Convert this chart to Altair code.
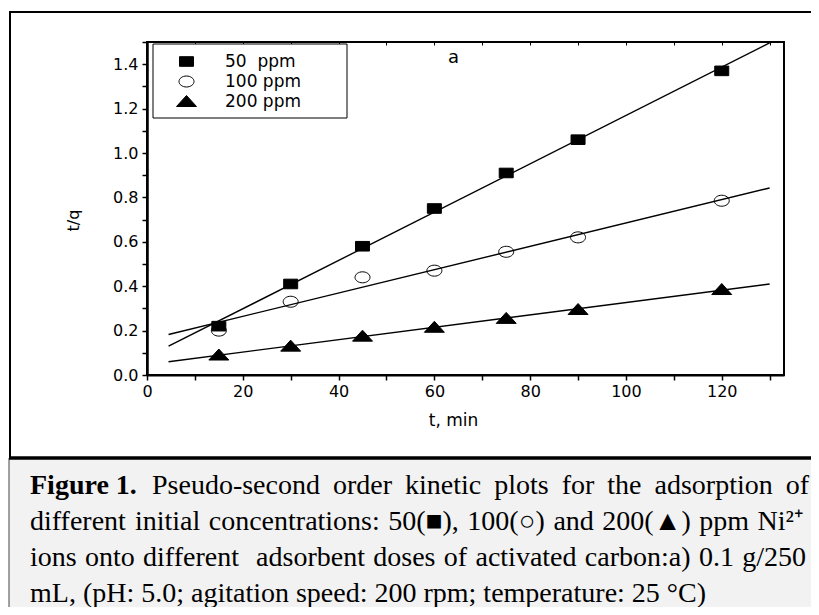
import altair as alt
import pandas as pd

# ---------------- data ----------------
t_min = [15, 30, 45, 60, 75, 90, 120]
tq_50 = [0.22, 0.41, 0.58, 0.75, 0.91, 1.06, 1.37]
tq_100 = [0.20, 0.33, 0.44, 0.47, 0.555, 0.62, 0.785]
tq_200 = [0.09, 0.13, 0.175, 0.215, 0.255, 0.295, 0.385]
series = ["50\u00a0 ppm", "100 ppm", "200 ppm"]

x_ticks = list(range(0, 131, 10))
y_ticks = [round(i * 0.1, 1) for i in range(16)]

panel_label = ["a"]

caption_bold = "Figure 1."
caption_lines = [
    "Pseudo-second order kinetic plots for the adsorption of",
    "different initial concentrations: 50(\u25a0), 100(\u25cb) and 200(\u25b2) ppm Ni\u00b2\u207a",
    "ions onto different  adsorbent doses of activated carbon:a) 0.1 g/250",
    "mL, (pH: 5.0; agitation speed: 200 rpm; temperature: 25 \u00b0C)",
]

# ---------------- tables ----------------
rows = []
for name, vals in zip(series, [tq_50, tq_100, tq_200]):
    for t, v in zip(t_min, vals):
        rows.append({"t": t, "tq": v, "conc": name})
df = pd.DataFrame(rows)

# marker shapes (custom paths, scaled by sqrt(size)/2)
sq = "M-0.7,-0.48L0.7,-0.48L0.7,0.48L-0.7,0.48Z"
ell = "M-0.75,0A0.75,0.55,0,1,0,0.75,0A0.75,0.55,0,1,0,-0.75,0Z"
tri = "M-1,0.5L1,0.5L0,-0.6Z"

SANS = "DejaVu Sans"
SERIF = "Liberation Serif"
CAP_FS = 28

# approximate advance widths (per 1000 em) for caption justification
TW = dict(zip("abcdefghijklmnopqrstuvwxyz",
              [444, 500, 444, 500, 444, 333, 500, 500, 278, 278, 500, 278, 778,
               500, 500, 500, 500, 333, 389, 278, 500, 500, 722, 500, 500, 444]))
TW.update({"C": 667, "F": 556, "H": 722, "L": 611, "N": 722, "P": 556,
           ",": 250, ".": 250, ":": 278, ";": 278, "(": 333, ")": 333, "-": 333,
           "/": 278, "\u00b0": 400, "\u00b2": 300, "\u207a": 540,
           "\u25a0": 604, "\u25cb": 604, "\u25b2": 990, " ": 250})
for d in "0123456789":
    TW[d] = 500


def text_w(s):
    return sum(TW.get(c, 500) for c in s) / 1000.0 * CAP_FS


def justify(line, x0, x1):
    parts = line.split(" ")
    words, gaps = [], []
    w = 1
    for p in parts:
        if p == "":
            w += 1
            continue
        if words:
            gaps.append(w)
        words.append(p)
        w = 1
    total = sum(text_w(p) for p in words)
    extra = (x1 - x0 - total) / sum(gaps)
    out = []
    x = x0
    for i, p in enumerate(words):
        out.append((p, x))
        x += text_w(p)
        if i < len(gaps):
            x += gaps[i] * extra
    return out


xscale = alt.Scale(domain=[0, 133], nice=False, zero=False)
yscale = alt.Scale(domain=[0, 1.5], nice=False)

xaxis = alt.Axis(
    values=x_ticks,
    labelExpr="datum.value % 20 == 0 ? datum.label : ''",
    format="d",
    title="t, min",
    titleFont=SANS, titleFontSize=17, titleFontWeight="normal", titleColor="black",
    titleX=306, titleY=45, titleBaseline="middle", titleAlign="center",
    labelFont=SANS, labelFontSize=16, labelColor="black", labelPadding=3,
    tickSize=5, tickColor="black", tickWidth=1.5,
    domainColor="black", domainWidth=2, grid=False, labelFlush=False,
)
xaxis_top = alt.Axis(
    orient="top", values=x_ticks, labels=False, title=None, domain=False,
    tickSize=3, tickColor="black", tickWidth=1, offset=-3, grid=False,
)
yaxis = alt.Axis(
    values=y_ticks,
    labelExpr="round(datum.value * 10) % 2 == 0 ? format(datum.value, '.1f') : ''",
    title="t/q",
    titleFont=SANS, titleFontSize=16, titleFontWeight="normal", titleColor="black",
    titleX=-74, titleY=178, titleAngle=270, titleBaseline="middle", titleAlign="center",
    labelFont=SANS, labelFontSize=16, labelColor="black", labelPadding=4,
    tickSize=5, tickColor="black", tickWidth=1.5,
    domainColor="black", domainWidth=2.5, grid=False, labelFlush=False,
)

legend = alt.Legend(
    title=None, orient="none", legendX=6, legendY=4, padding=5,
    symbolOffset=18, labelOffset=28, symbolSize=400,
    labelFont=SANS, labelFontSize=17, labelColor="black", rowPadding=1,
    symbolStrokeWidth=1,
)

one = pd.DataFrame({"k": [0]})

frame = alt.Chart(one).mark_rect(fillOpacity=0, stroke="black", strokeWidth=2).encode(
    x=alt.value(-137), x2=alt.value(700), y=alt.value(-30), y2=alt.value(416)
)
cap_bg = alt.Chart(one).mark_rect(fill="#f2f2f2", stroke="#444444", strokeWidth=1).encode(
    x=alt.value(-138), x2=alt.value(700), y=alt.value(416), y2=alt.value(600)
)
cap_rule = alt.Chart(one).mark_rule(color="black", strokeWidth=3.5).encode(
    x=alt.value(-138), x2=alt.value(700), y=alt.value(416)
)
legend_box = alt.Chart(one).mark_rect(fill="white", stroke="black", strokeWidth=1).encode(
    x=alt.value(6), x2=alt.value(200), y=alt.value(2), y2=alt.value(76)
)

lines = alt.Chart(df).transform_regression(
    "t", "tq", groupby=["conc"], extent=[4.5, 130]
).mark_line(color="black", strokeWidth=1.4).encode(
    x=alt.X("t:Q", scale=xscale, axis=xaxis_top),
    y=alt.Y("tq:Q", scale=yscale, axis=yaxis),
    detail="conc:N",
)

points = alt.Chart(df).mark_point(filled=True, size=400, strokeWidth=1, opacity=1).encode(
    x=alt.X("t:Q", scale=xscale, axis=xaxis),
    y=alt.Y("tq:Q", scale=yscale, axis=yaxis),
    shape=alt.Shape("conc:N", scale=alt.Scale(domain=series, range=[sq, ell, tri]), legend=legend),
    fill=alt.Fill("conc:N", scale=alt.Scale(domain=series, range=["black", "transparent", "black"]), legend=legend),
    stroke=alt.Stroke("conc:N", scale=alt.Scale(domain=series, range=["black", "black", "black"]), legend=legend),
)

label_a = alt.Chart(pd.DataFrame({"t": [64], "tq": [1.43], "txt": panel_label})).mark_text(
    font=SANS, fontSize=18, color="black", baseline="middle", align="center"
).encode(
    x=alt.X("t:Q", scale=xscale, axis=None),
    y=alt.Y("tq:Q", scale=yscale, axis=yaxis),
    text="txt:N",
)

# caption (pixel layout, justified word by word like the original)
base_y = [452, 488, 524, 560]
starts = [5, -117, -117]
ends = [662, 662, 659]
word_rows = []
for i in range(3):
    for w, x in justify(caption_lines[i], starts[i], ends[i]):
        word_rows.append({"px": x, "py": base_y[i], "txt": w})
word_rows.append({"px": -117, "py": base_y[3], "txt": caption_lines[3]})
words_df = pd.DataFrame(word_rows)
bold_df = pd.DataFrame({"px": [-117], "py": [base_y[0]], "txt": [caption_bold]})

cap_bold = alt.Chart(bold_df).mark_text(
    font=SERIF, fontSize=CAP_FS, fontWeight="bold", align="left", baseline="alphabetic", color="black"
).encode(x=alt.X("px:Q", scale=None), y=alt.Y("py:Q", scale=None), text="txt:N")
cap_words = alt.Chart(words_df).mark_text(
    font=SERIF, fontSize=CAP_FS, align="left", baseline="alphabetic", color="black"
).encode(x=alt.X("px:Q", scale=None), y=alt.Y("py:Q", scale=None), text="txt:N")

chart = alt.layer(
    frame, cap_bg, cap_rule, legend_box, lines, points, label_a, cap_bold, cap_words
).resolve_axis(x="independent").properties(
    width=637, height=333,
    padding={"left": 139, "top": 34, "right": 27, "bottom": 232},
    autosize=alt.AutoSizeParams(type="none"),
    background="white",
).configure_view(stroke="black", strokeWidth=2)

chart.save("out.html", embed_options={"renderer": "svg", "actions": False})
